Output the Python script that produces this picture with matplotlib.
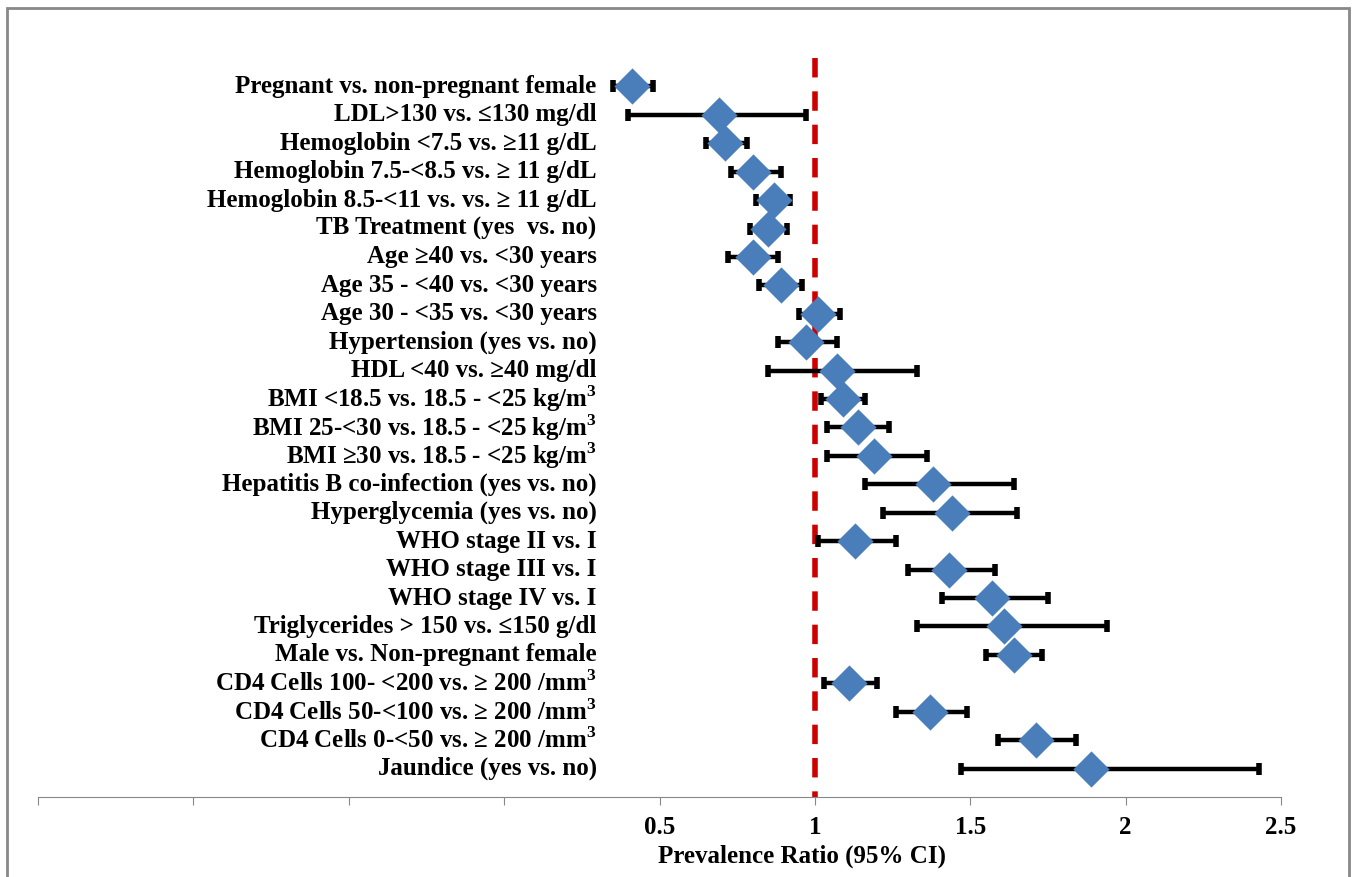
import matplotlib.pyplot as plt
from matplotlib.patches import Rectangle

labels = [
    'Pregnant vs. non-pregnant female',
    'LDL>130 vs. \u2264130 mg/dl',
    'Hemoglobin <7.5 vs. \u226511 g/dL',
    'Hemoglobin 7.5-<8.5 vs. \u2265 11 g/dL',
    'Hemoglobin 8.5-<11 vs. vs. \u2265 11 g/dL',
    'TB Treatment (yes  vs. no)',
    'Age \u226540 vs. <30 years',
    'Age 35 - <40 vs. <30 years',
    'Age 30 - <35 vs. <30 years',
    'Hypertension (yes vs. no)',
    'HDL <40 vs. \u226540 mg/dl',
    'BMI <18.5 vs. 18.5 - <25 kg/m$^3$',
    'BMI 25-<30 vs. 18.5 - <25 kg/m$^3$',
    'BMI \u226530 vs. 18.5 - <25 kg/m$^3$',
    'Hepatitis B co-infection (yes vs. no)',
    'Hyperglycemia (yes vs. no)',
    'WHO stage II vs. I',
    'WHO stage III vs. I',
    'WHO stage IV vs. I',
    'Triglycerides > 150 vs. \u2264150 g/dl',
    'Male vs. Non-pregnant female',
    'CD4 Cells 100- <200 vs. \u2265 200 /mm$^3$',
    'CD4 Cells 50-<100 vs. \u2265 200 /mm$^3$',
    'CD4 Cells 0-<50 vs. \u2265 200 /mm$^3$',
    'Jaundice (yes vs. no)',
]
pr = [0.41, 0.69, 0.71, 0.80, 0.87, 0.85, 0.80, 0.89, 1.01, 0.97, 1.07, 1.09,
      1.14, 1.19, 1.38, 1.44, 1.13, 1.43, 1.57, 1.61, 1.64, 1.11, 1.37, 1.71, 1.89]
ci_low = [0.35, 0.40, 0.65, 0.73, 0.81, 0.79, 0.72, 0.82, 0.95, 0.88, 0.85, 1.02,
          1.04, 1.04, 1.16, 1.22, 1.01, 1.30, 1.41, 1.33, 1.55, 1.03, 1.26, 1.59, 1.47]
ci_high = [0.48, 0.97, 0.78, 0.89, 0.92, 0.91, 0.88, 0.96, 1.08, 1.07, 1.33, 1.16,
           1.24, 1.36, 1.64, 1.65, 1.26, 1.58, 1.75, 1.94, 1.73, 1.20, 1.49, 1.84, 2.43]
xticks = [-1.5, -1, -0.5, 0, 0.5, 1, 1.5, 2, 2.5]
xtick_labels = ['', '', '', '', '0.5', '1', '1.5', '2', '2.5']

plt.rcParams['font.family'] = ['Liberation Serif', 'DejaVu Serif']
plt.rcParams['font.weight'] = 'bold'
plt.rcParams['mathtext.fontset'] = 'custom'
plt.rcParams['mathtext.rm'] = 'Liberation Serif:bold'

fig = plt.figure(figsize=(13.53, 8.77), dpi=100)
ax = fig.add_axes([0.0281, 0.0912, 0.9187, 0.8427])

ypos = list(range(1, len(labels) + 1))
err = [[p - lo for p, lo in zip(pr, ci_low)], [hi - p for p, hi in zip(pr, ci_high)]]
ax.errorbar(pr, ypos, xerr=err, fmt='none', ecolor='black', elinewidth=3.2,
            capsize=4.5, capthick=4, zorder=2)
ax.scatter(pr, ypos, marker='D', s=340, color='#4a7ebb', zorder=3, linewidths=0)
ax.plot([1, 1], [0, 26], color='#cc0000', lw=4, ls=(0, (3.5, 2.5)), zorder=1)

for y, lab in zip(ypos, labels):
    ax.text(0.298, y, lab, ha='right', va='center', fontsize=18, fontweight='bold')

ax.set_xlim(-1.5, 2.5)
ax.set_ylim(26, 0)
ax.set_xticks(xticks)
ax.set_xticklabels(xtick_labels, fontsize=18, fontweight='bold')
ax.set_yticks([])
for side in ['top', 'right', 'left']:
    ax.spines[side].set_visible(False)
ax.spines['bottom'].set_color('#888888')
ax.tick_params(axis='x', colors='#888888', length=6, labelcolor='black', pad=8)
ax.set_xlabel('Prevalence Ratio (95% CI)', fontsize=18, fontweight='bold',
              x=0.615, labelpad=4)

fig.patches.append(Rectangle((7 / 1353, -0.01), 1342 / 1353, 1 - 8 / 877 + 0.01,
                             transform=fig.transFigure, fill=False,
                             edgecolor='#888888', lw=2))

fig.savefig('out.png', dpi=100)
